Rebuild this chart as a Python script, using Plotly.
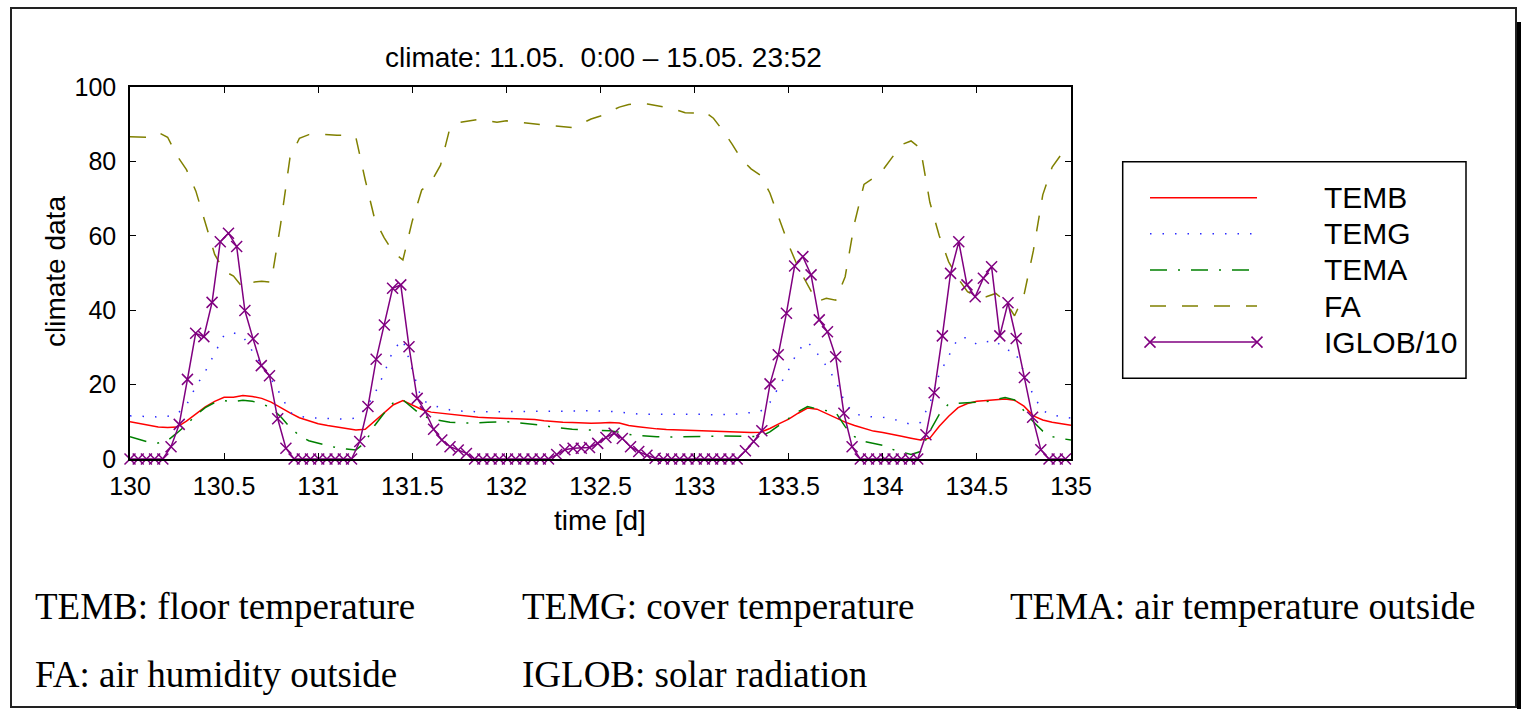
import numpy as np
import plotly.graph_objects as go

W, H = 1521, 709

# ---------------- data ----------------
title_text = "climate: 11.05.  0:00 \u2013 15.05. 23:52"
x_ticks = [130, 130.5, 131, 131.5, 132, 132.5, 133, 133.5, 134, 134.5, 135]
x_tick_labels = ["130", "130.5", "131", "131.5", "132", "132.5", "133", "133.5", "134", "134.5", "135"]
y_ticks = [0, 20, 40, 60, 80, 100]

# time grid of the smooth series (days)
t_grid = np.round(130 + np.arange(101) * 0.05, 2)
# time of the IGLOB samples (days)
t_iglob = 130 + np.arange(115) * 0.0436

temb = [10.0, 9.6, 9.0, 8.6, 8.5, 8.6, 10.2, 12.2, 14.0, 15.5,
        16.6, 16.6, 17.1, 16.8, 16.3, 15.3, 13.8, 12.4, 11.1, 10.2,
        9.5, 9.0, 8.6, 8.1, 7.8, 8.0, 10.2, 12.5, 14.6, 15.7,
        14.6, 13.3, 12.6, 12.3, 11.9, 11.6, 11.4, 11.2, 11.1, 10.9,
        10.9, 10.8, 10.8, 10.6, 10.3, 10.0, 9.9, 9.8, 9.7, 9.6,
        9.7, 9.8, 9.7, 9.0, 8.7, 8.3, 8.1, 7.9, 7.8, 7.7,
        7.6, 7.5, 7.4, 7.3, 7.3, 7.2, 7.1, 7.2, 8.2, 9.5,
        10.7, 12.3, 13.7, 13.4, 12.2, 11.0, 9.9, 9.0, 8.2, 7.5,
        7.1, 6.7, 6.1, 5.6, 5.1, 5.6, 8.8, 11.5, 13.8, 14.9,
        15.5, 15.7, 16.0, 16.1, 15.8, 14.2, 11.6, 10.5, 9.9, 9.4,
        9.1]

temg = [11.6, 11.5, 11.3, 11.3, 11.5, 12.1, 14.5, 19.5, 23.5, 28.5,
        33.3, 33.9, 33.0, 29.0, 25.2, 21.5, 17.3, 12.5, 11.5, 11.1,
        11.0, 11.0, 10.8, 10.7, 11.0, 13.5, 17.5, 23.0, 29.5, 32.0,
        24.0, 16.0, 14.5, 13.8, 13.2, 12.9, 12.7, 12.7, 12.7, 12.7,
        12.7, 12.7, 12.7, 12.7, 12.8, 12.9, 12.9, 12.9, 12.9, 13.0,
        13.0, 12.8, 12.6, 12.3, 12.1, 12.0, 12.0, 12.1, 12.1, 12.2,
        12.2, 12.0, 11.9, 11.9, 12.0, 12.2, 12.4, 12.8, 15.2, 19.5,
        24.0, 29.2, 31.5, 28.5, 25.0, 21.0, 15.0, 12.2, 11.5, 11.3,
        11.2, 10.8, 10.0, 9.3, 9.8, 15.0, 22.8, 27.5, 32.5, 32.6,
        30.8, 31.5, 31.8, 29.3, 29.0, 23.5, 17.0, 13.0, 11.8, 11.4,
        11.0]

tema = [6.0, 5.2, 4.5, 4.3, 5.0, 7.0, 9.2, 11.8, 13.8, 15.2,
        15.7, 15.4, 15.8, 15.5, 14.9, 13.7, 11.4, 8.5, 6.3, 4.9,
        4.2, 3.6, 3.0, 2.7, 2.4, 4.5, 9.0, 12.3, 15.2, 15.9,
        13.8, 11.7, 10.8, 10.3, 9.9, 9.7, 9.6, 9.7, 9.9, 10.0,
        10.0, 9.8, 9.6, 9.4, 9.0, 8.5, 8.2, 8.0, 7.9, 7.8,
        7.8, 7.6, 7.2, 6.6, 6.3, 6.1, 6.0, 5.9, 5.9, 5.9,
        6.0, 6.0, 6.1, 6.2, 6.1, 6.0, 6.0, 6.0, 7.3, 9.0,
        10.9, 12.7, 14.1, 13.5, 12.9, 12.5, 8.7, 6.0, 4.7, 4.2,
        3.7, 2.6, 1.8, 1.2, 2.0, 7.5, 12.0, 14.8, 15.0, 15.1,
        15.1, 15.4, 16.0, 16.5, 15.9, 13.0, 10.0, 7.5, 6.0, 5.5,
        5.1]

fa = [86.6, 86.5, 86.5, 87.8, 86.5, 81.5, 77.8, 72.0, 63.3, 55.0,
      50.5, 49.2, 46.0, 47.5, 47.8, 47.5, 63.0, 81.0, 86.2, 87.2,
      87.4, 87.2, 87.0, 87.0, 86.5, 75.0, 64.5, 59.5, 55.5, 53.5,
      64.0, 72.3, 74.5, 79.0, 89.0, 90.5, 90.9, 91.3, 91.0, 90.5,
      90.9, 90.6, 90.3, 90.1, 89.8, 89.6, 89.3, 89.1, 90.2, 91.4,
      92.2, 93.3, 94.6, 95.3, 95.6, 95.4, 95.0, 94.5, 93.9, 93.1,
      93.0, 93.5, 91.6, 88.3, 84.6, 80.5, 78.0, 76.3, 71.5, 64.5,
      57.5, 51.5, 47.0, 42.3, 43.2, 42.7, 49.0, 63.5, 73.8, 75.5,
      77.7, 81.0, 84.5, 85.5, 83.5, 69.0, 60.0, 53.0, 48.5, 45.0,
      43.6, 43.6, 44.5, 42.5, 38.5, 44.0, 56.0, 71.0, 78.5, 82.0,
      83.0]

iglob10 = [0, 0, 0, 0, 0,
           3.3, 9.3, 21.4, 33.8, 32.9, 42.1, 58.4, 60.7, 57.1, 39.9, 32.3, 25.1, 22.4, 10.8, 2.9,
           0, 0, 0, 0, 0, 0, 0, 0,
           4.7, 14.1, 26.8, 36.0, 45.9, 46.8, 30.2, 16.3, 12.7, 8.0, 5.1, 3.3, 2.4, 1.5,
           0, 0, 0, 0, 0, 0, 0, 0, 0, 0,
           1.2, 2.5, 2.9, 2.9, 3.1, 4.2, 5.8, 6.9, 5.5, 3.3, 2.0, 1.0, 0.2,
           0, 0, 0, 0, 0, 0, 0, 0, 0, 0,
           2.2, 4.7, 7.6, 20.2, 28.0, 39.2, 51.9, 54.4, 49.5, 37.4, 34.2, 27.5, 12.3, 3.3,
           0, 0, 0, 0, 0, 0, 0, 0,
           6.5, 17.8, 33.1, 49.9, 58.4, 46.8, 43.6, 48.6, 51.7, 33.1, 42.0, 32.4, 21.9, 11.2, 2.5,
           0, 0, 0]

series_names = ["TEMB", "TEMG", "TEMA", "FA", "IGLOB/10"]
footnotes_row1 = ["TEMB: floor temperature", "TEMG: cover temperature", "TEMA: air temperature outside"]
footnotes_row2 = ["FA: air humidity outside", "IGLOB: solar radiation"]

# ---------------- styles ----------------
RED, BLUE, GREEN, OLIVE, PURPLE = "#ff0000", "#2a2aff", "#008000", "#808000", "#800080"
styles = [
    dict(color=RED, width=1.5, dash="solid"),
    dict(color=BLUE, width=1.5, dash="1.5px,11px"),
    dict(color=GREEN, width=1.5, dash="17px,11px,2px,11px"),
    dict(color=OLIVE, width=1.5, dash="16px,16px"),
    dict(color=PURPLE, width=1.5, dash="solid"),
]
xmark = dict(symbol="x-thin", size=11, color=PURPLE, line=dict(width=1.5, color=PURPLE))


def px(x):
    return x / W


def py(y):
    return 1 - y / H


fig = go.Figure()
main_series = [(t_grid, temb), (t_grid, temg), (t_grid, tema), (t_grid, fa)]
for (tx, vals), st, nm in zip(main_series, styles[:4], series_names[:4]):
    fig.add_trace(go.Scatter(x=tx, y=vals, mode="lines", line=st, name=nm,
                             showlegend=False, xaxis="x", yaxis="y"))
fig.add_trace(go.Scatter(x=t_iglob, y=iglob10, mode="lines+markers", line=styles[4],
                         marker=xmark, name=series_names[4], showlegend=False,
                         cliponaxis=False, xaxis="x", yaxis="y"))

# legend samples drawn on a helper axis
for i, (st, nm) in enumerate(zip(styles, series_names)):
    if nm == "IGLOB/10":
        fig.add_trace(go.Scatter(x=[0, 1], y=[i, i], mode="lines+markers", line=st,
                                 marker=xmark, showlegend=False, cliponaxis=False,
                                 xaxis="x2", yaxis="y2", hoverinfo="skip"))
    else:
        fig.add_trace(go.Scatter(x=[0, 1], y=[i, i], mode="lines", line=st,
                                 showlegend=False, xaxis="x2", yaxis="y2", hoverinfo="skip"))

SANS = "Liberation Sans, Arial, sans-serif"
SERIF = "Liberation Serif, Times New Roman, serif"

axis_common = dict(showline=True, linecolor="black", linewidth=1.5, mirror="ticks",
                   ticks="inside", ticklen=6, tickwidth=1.2, tickcolor="black",
                   showgrid=False, zeroline=False, automargin=False,
                   tickfont=dict(family=SANS, size=25, color="black"))

fig.update_layout(
    template="none",
    width=W, height=H, autosize=False,
    margin=dict(l=0, r=0, t=0, b=0, pad=0, autoexpand=False),
    paper_bgcolor="white", plot_bgcolor="white",
    showlegend=False,
    xaxis=dict(domain=[px(130), px(1071)], range=[130, 135], tickmode="array",
               tickvals=x_ticks, ticktext=x_tick_labels, anchor="y", ticklabelstandoff=4,
               **axis_common),
    yaxis=dict(domain=[py(459), py(87)], range=[0, 100], tickmode="array",
               tickvals=y_ticks, anchor="x", ticklabelstandoff=7, **axis_common),
    xaxis2=dict(domain=[px(1150), px(1257)], range=[0, 1], visible=False, anchor="y2",
                automargin=False),
    yaxis2=dict(domain=[py(360.15), py(179.65)], range=[4.5, -0.5], visible=False, anchor="x2",
                automargin=False),
)

annotations = [
    dict(text=title_text, x=px(603), y=py(58), xref="paper", yref="paper",
         showarrow=False, font=dict(family=SANS, size=28, color="black"),
         xanchor="center", yanchor="middle"),
    dict(text="time [d]", x=px(600), y=py(520), xref="paper", yref="paper",
         showarrow=False, font=dict(family=SANS, size=28, color="black"),
         xanchor="center", yanchor="middle"),
    dict(text="climate data", x=px(55), y=py(272), xref="paper", yref="paper",
         showarrow=False, textangle=-90, font=dict(family=SANS, size=28, color="black"),
         xanchor="center", yanchor="middle"),
]
row_y = [197.7, 233.8, 269.9, 306.0, 342.1]
for nm, ry in zip(series_names, row_y):
    annotations.append(dict(text=nm, x=px(1322), y=py(ry), xref="paper", yref="paper",
                            showarrow=False, font=dict(family=SANS, size=30, color="black"),
                            xanchor="left", yanchor="middle"))
col_x = [33, 520, 1008]
for txt, cx in zip(footnotes_row1, col_x):
    annotations.append(dict(text=txt, x=px(cx), y=py(606), xref="paper", yref="paper",
                            showarrow=False, font=dict(family=SERIF, size=37, color="black"),
                            xanchor="left", yanchor="middle"))
for txt, cx in zip(footnotes_row2, col_x):
    annotations.append(dict(text=txt, x=px(cx), y=py(674), xref="paper", yref="paper",
                            showarrow=False, font=dict(family=SERIF, size=37, color="black"),
                            xanchor="left", yanchor="middle"))
fig.update_layout(annotations=annotations)

shapes = [
    # outer frame
    dict(type="rect", xref="paper", yref="paper", x0=px(11), x1=px(1516), y0=py(707), y1=py(8),
         line=dict(color="#222222", width=2)),
    # right shadow bar
    dict(type="rect", xref="paper", yref="paper", x0=px(1517), x1=px(1521), y0=py(709), y1=py(22),
         line=dict(width=0), fillcolor="black"),
    # legend box
    dict(type="rect", xref="paper", yref="paper", x0=px(1122.7), x1=px(1466), y0=py(378.3), y1=py(161.7),
         line=dict(color="black", width=1.5)),
]
fig.update_layout(shapes=shapes)

fig.write_html("out.html")
